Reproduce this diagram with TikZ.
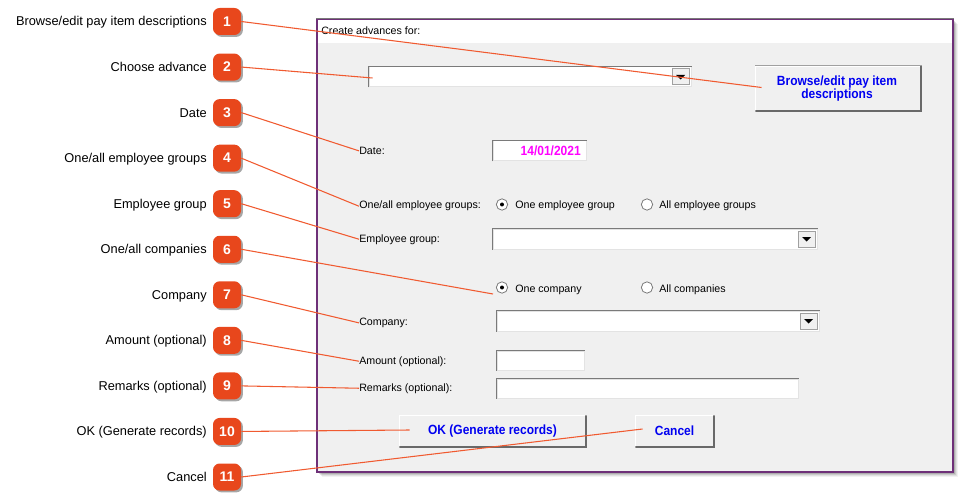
\documentclass[tikz,border=0pt]{standalone}
\usepackage{fontspec}
\setmainfont{Liberation Sans}
\newfontfamily\btnfont[FakeStretch=0.9]{Liberation Sans}
\usetikzlibrary{shadows,fit,calc}
\definecolor{badge}{HTML}{E8471C}
\definecolor{callline}{HTML}{F05A30}
\definecolor{framecol}{HTML}{6E3078}
\definecolor{dlgbg}{HTML}{F0F0F0}
\definecolor{btnblue}{HTML}{0000F0}
\definecolor{datemag}{HTML}{FF00FF}
\definecolor{darkedge}{HTML}{7A7A7A}
\definecolor{lightedge}{HTML}{E3E3E3}
\definecolor{btnedge}{HTML}{A0A0A0}
\definecolor{btndark}{HTML}{696969}
\begin{document}
\begin{tikzpicture}[x=0.75pt,y=-0.75pt,
  badgesty/.style={fill=badge, text=white, rounded corners=5pt, minimum width=21pt, minimum height=20.25pt, inner sep=0pt,
    font=\fontsize{10.5}{12}\selectfont\bfseries,
    drop shadow={shadow xshift=1.4pt, shadow yshift=-1.4pt, opacity=0.35, fill=black}},
  lbl/.style={anchor=base east, inner sep=0pt, font=\fontsize{9.6}{11}\selectfont},
  dlgt/.style={anchor=base west, inner sep=0pt, font=\fontsize{8}{10}\selectfont},
  call/.style={draw=callline, line width=0.8pt},
  sunken/.style={fill=white, draw=lightedge, line width=0.75pt, inner sep=0pt},
  raised/.style={fill=dlgbg, draw=btnedge, line width=0.75pt, inner sep=0pt},
  btntext/.style={font=\btnfont\fontsize{10}{9.75}\selectfont\bfseries, text=btnblue, align=center, inner sep=0pt},
  radio/.style={circle, draw=darkedge, fill=white, line width=0.6pt, minimum size=8.5pt, inner sep=0pt},
]
\useasboundingbox (0,0) rectangle (962,502);

% ---- dialog shadow and frame ----
\foreach \i/\o in {5/0.05,4/0.07,3/0.1,2/0.14,1/0.18}
  \fill[black,opacity=\o] (317+\i,19+\i) rectangle (953+\i,472+\i);
\node[fit={(317,19)(953,472)}, inner sep=0pt, fill=dlgbg, draw=framecol, line width=0.9pt] (dlg) {};
\fill[white] (318,20) rectangle (952,43);
\draw[darkedge, line width=0.9pt] (dlg.north west) -- (dlg.north east);
\node[dlgt] (title) at (321,35) {Create advances for:};

% ---- choose advance combo ----
\node[sunken, fit={(369,67)(691,87)}] (cb1) {};
\draw[darkedge, line width=1.2pt] (cb1.south west) -- (cb1.north west) -- (cb1.north east);
\node[raised, fit={(672,69)(689,85)}] (dd1) {};
\fill ($(dd1.center)+(-4.5,-2)$) -- ++(9,0) -- ++(-4.5,4.5) -- cycle;

% ---- browse button ----
\node[raised, fit={(755,66)(921,112)}] (browse) {};
\draw[white, line width=0.9pt] ($(browse.south west)+(1,-2)$) -- ($(browse.north west)+(1,1)$) -- ($(browse.north east)+(-2,1)$);
\draw[btndark, line width=1.5pt] ($(browse.south west)+(1,-1)$) -- ($(browse.south east)+(-1,-1)$) -- ($(browse.north east)+(-1,1)$);
\node[btntext] (browset) at ($(browse.center)+(-1,0)$) {Browse/edit pay item\\descriptions};

% ---- date ----
\node[dlgt] (dl3) at (359,154.5) {Date:};
\node[sunken, fit={(493,141)(586,161)}] (datebox) {};
\draw[darkedge, line width=1.2pt] (datebox.south west) -- (datebox.north west) -- (datebox.north east);
\node[anchor=base east, inner sep=0pt, font=\btnfont\fontsize{10}{12}\selectfont\bfseries, text=datemag] (datet) at (581,156) {14/01/2021};

% ---- employee groups radios ----
\node[dlgt] (dl4) at (359,209) {One/all employee groups:};
\node[radio] (r1) at (502,204.5) {};
\fill (r1.center) circle (2);
\node[dlgt] (r1t) at (515,209) {One employee group};
\node[radio] (r2) at (647,204.5) {};
\node[dlgt] (r2t) at (659,209) {All employee groups};

% ---- employee group combo ----
\node[dlgt] (dl5) at (359,242) {Employee group:};
\node[sunken, fit={(493,229)(817,249)}] (cb2) {};
\draw[darkedge, line width=1.2pt] (cb2.south west) -- (cb2.north west) -- (cb2.north east);
\node[raised, fit={(798,231)(815,247)}] (dd2) {};
\fill ($(dd2.center)+(-4.5,-2)$) -- ++(9,0) -- ++(-4.5,4.5) -- cycle;

% ---- company radios ----
\node[radio] (r3) at (502,287.5) {};
\fill (r3.center) circle (2);
\node[dlgt] (r3t) at (515,292) {One company};
\node[radio] (r4) at (647,287.5) {};
\node[dlgt] (r4t) at (659,292) {All companies};
\coordinate (t6) at (493,294);

% ---- company combo ----
\node[dlgt] (dl7) at (359,325.5) {Company:};
\node[sunken, fit={(497,311)(819,331)}] (cb3) {};
\draw[darkedge, line width=1.2pt] (cb3.south west) -- (cb3.north west) -- (cb3.north east);
\node[raised, fit={(800,313)(817,329)}] (dd3) {};
\fill ($(dd3.center)+(-4.5,-2)$) -- ++(9,0) -- ++(-4.5,4.5) -- cycle;

% ---- amount / remarks ----
\node[dlgt] (dl8) at (359,364) {Amount (optional):};
\node[sunken, fit={(497,351)(584,370)}] (amount) {};
\draw[darkedge, line width=1.2pt] (amount.south west) -- (amount.north west) -- (amount.north east);
\node[dlgt] (dl9) at (359,391) {Remarks (optional):};
\node[sunken, fit={(497,379)(798,398)}] (remarks) {};
\draw[darkedge, line width=1.2pt] (remarks.south west) -- (remarks.north west) -- (remarks.north east);

% ---- OK / Cancel ----
\node[raised, fit={(399,415)(586,447)}] (ok) {};
\draw[white, line width=0.9pt] ($(ok.south west)+(1,-2)$) -- ($(ok.north west)+(1,1)$) -- ($(ok.north east)+(-2,1)$);
\draw[btndark, line width=1.5pt] ($(ok.south west)+(1,-1)$) -- ($(ok.south east)+(-1,-1)$) -- ($(ok.north east)+(-1,1)$);
\node[btntext] (okt) at (ok.center) {OK (Generate records)};
\node[raised, fit={(635,415)(714,447)}] (cancel) {};
\draw[white, line width=0.9pt] ($(cancel.south west)+(1,-2)$) -- ($(cancel.north west)+(1,1)$) -- ($(cancel.north east)+(-2,1)$);
\draw[btndark, line width=1.5pt] ($(cancel.south west)+(1,-1)$) -- ($(cancel.south east)+(-1,-1)$) -- ($(cancel.north east)+(-1,1)$);
\node[btntext] (cancelt) at (cancel.center) {Cancel};

% ---- callout badges and labels ----
\node[badgesty] (b1) at (227,21.5) {1};
\node[badgesty] (b2) at (227,67.05) {2};
\node[badgesty] (b3) at (227,112.6) {3};
\node[badgesty] (b4) at (227,158.15) {4};
\node[badgesty] (b5) at (227,203.7) {5};
\node[badgesty] (b6) at (227,249.25) {6};
\node[badgesty] (b7) at (227,294.8) {7};
\node[badgesty] (b8) at (227,340.35) {8};
\node[badgesty] (b9) at (227,385.9) {9};
\node[badgesty] (b10) at (227,431.45) {10};
\node[badgesty] (b11) at (227,477) {11};

\node[lbl] (l1) at (207,26) {Browse/edit pay item descriptions};
\node[lbl] (l2) at (207,71.55) {Choose advance};
\node[lbl] (l3) at (207,117.1) {Date};
\node[lbl] (l4) at (207,162.65) {One/all employee groups};
\node[lbl] (l5) at (207,208.2) {Employee group};
\node[lbl] (l6) at (207,253.75) {One/all companies};
\node[lbl] (l7) at (207,299.3) {Company};
\node[lbl] (l8) at (207,344.85) {Amount (optional)};
\node[lbl] (l9) at (207,390.4) {Remarks (optional)};
\node[lbl] (l10) at (207,435.95) {OK (Generate records)};
\node[lbl] (l11) at (207,481.5) {Cancel};

% ---- connectors ----
\draw[call] (b1.east) -- ($(browse.west)+(7,-1.5)$);
\draw[call] (b2.east) -- ($(cb1.west)+(4,1)$);
\draw[call] (b3.east) -- (dl3.west);
\draw[call] (b4.east) -- (dl4.west);
\draw[call] (b5.east) -- (dl5.west);
\draw[call] (b6.east) -- (t6);
\draw[call] (b7.east) -- (dl7.west);
\draw[call] (b8.east) -- (dl8.west);
\draw[call] (b9.east) -- (dl9.west);
\draw[call] (b10.east) -- ($(ok.west)+(11,-1)$);
\draw[call] (b11.east) -- ($(cancel.west)+(8,-2)$);
\end{tikzpicture}
\end{document}
